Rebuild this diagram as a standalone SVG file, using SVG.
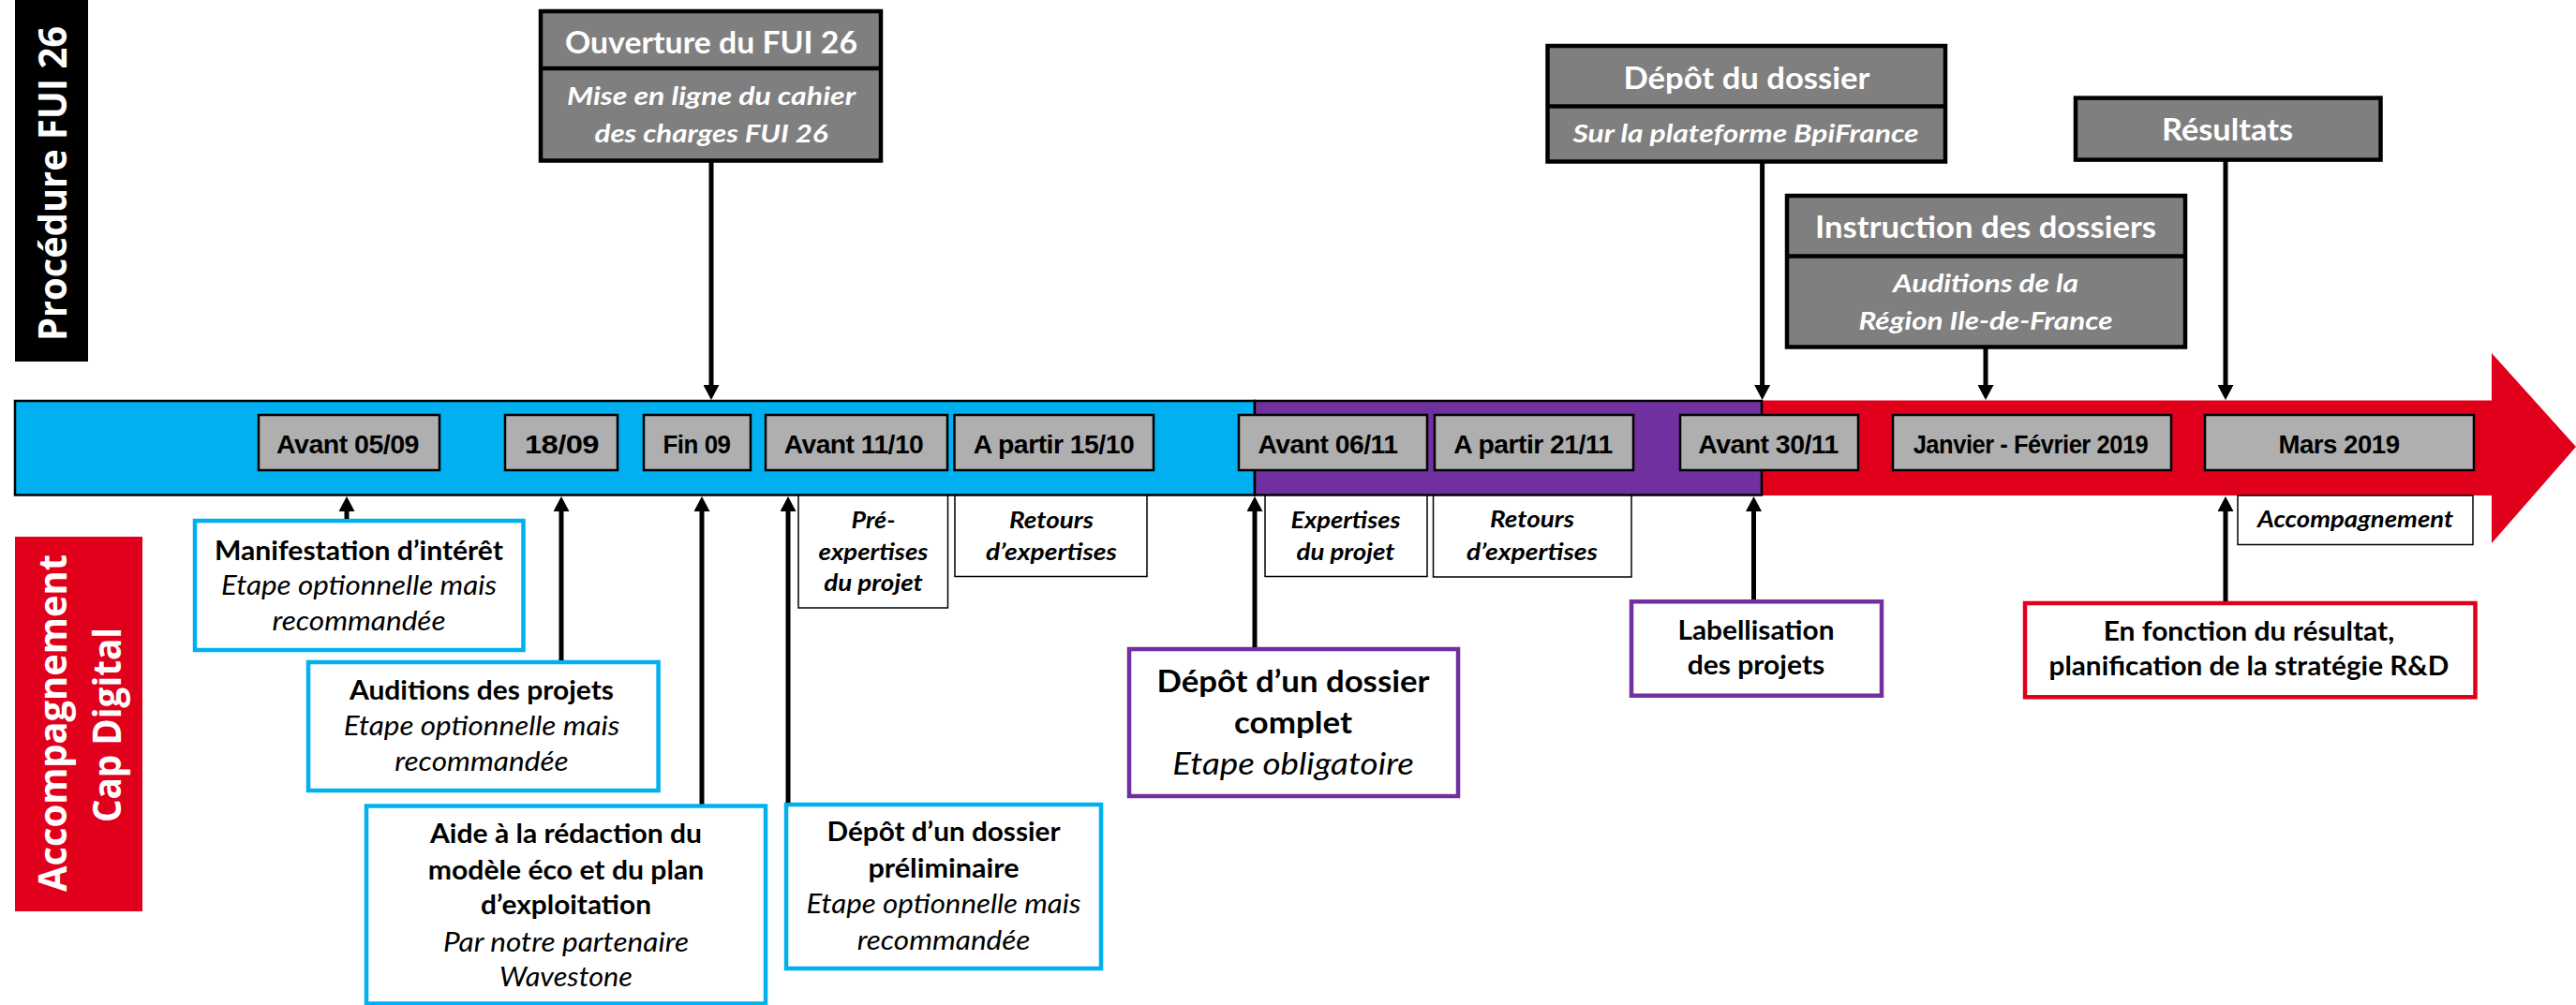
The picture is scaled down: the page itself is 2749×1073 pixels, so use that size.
<svg xmlns="http://www.w3.org/2000/svg" width="2749" height="1073" viewBox="0 0 2749 1073">
<defs>
<marker id="ah" markerUnits="userSpaceOnUse" markerWidth="17" markerHeight="17" refX="0" refY="8.5" orient="auto">
<path d="M0,0 L16,8.5 L0,17 z" fill="#000"/>
</marker>
<style>
.bg{fill:#fff}
.banner{font-family:"Open Sans","DejaVu Sans",sans-serif;font-weight:bold;font-size:42px;fill:#fff;text-anchor:middle}
.top{fill:#7f7f7f;stroke:#000;stroke-width:4.5}
.div{stroke:#000;stroke-width:4.5}
.tt{font-family:Lato,"Open Sans",sans-serif;font-weight:bold;font-size:33px;fill:#fff;text-anchor:middle}
.ts{font-family:Lato,"Open Sans",sans-serif;font-weight:bold;font-style:italic;font-size:26px;fill:#fff;text-anchor:middle}
.date{fill:#afafaf;stroke:#000;stroke-width:2.5}
.dt{font-family:"Liberation Sans",Arial,sans-serif;font-weight:bold;font-size:27px;fill:#000;text-anchor:middle;letter-spacing:-0.5px}
.small{fill:#fff;stroke:#000;stroke-width:1.5}
.st{font-family:Lato,"Open Sans",sans-serif;font-weight:bold;font-style:italic;font-size:24px;fill:#000;text-anchor:middle}
.bb{fill:#fff;stroke:#00b0f0;stroke-width:4.5}
.pb{fill:#fff;stroke:#7030a0;stroke-width:4.5}
.rb{fill:#fff;stroke:#e1001b;stroke-width:4.5}
.b{font-family:Lato,"Open Sans",sans-serif;font-weight:bold;font-size:28px;fill:#000;text-anchor:middle}
.i{font-family:Lato,"Open Sans",sans-serif;font-style:italic;font-size:28px;fill:#000;text-anchor:middle}
.big{font-size:32px}
.conn line{stroke:#000;stroke-width:5;marker-end:url(#ah)}
</style>
</defs>
<rect class="bg" x="0" y="0" width="2749" height="1073"/>

<g id="timeline">
<polygon points="1878,427.5 2659,427.5 2659,377 2749,477 2659,580 2659,529 1878,529" fill="#e1001b"/>
<rect x="16" y="428" width="1323" height="100.5" fill="#00b0f0" stroke="#000" stroke-width="2.5"/>
<rect x="1339" y="428" width="541" height="100.5" fill="#7030a0" stroke="#000" stroke-width="2.5"/>
</g>

<g id="banner-procedure">
<rect x="16" y="0" width="78" height="386" fill="#000"/>
<text class="banner" transform="translate(71,196) rotate(-90)" textLength="336" lengthAdjust="spacingAndGlyphs">Procédure FUI 26</text>
</g>
<g id="banner-accompagnement">
<rect x="16" y="573" width="136" height="400" fill="#e1001b"/>
<text class="banner" transform="translate(71,772) rotate(-90)" textLength="360" lengthAdjust="spacingAndGlyphs">Accompagnement</text>
<text class="banner" transform="translate(128.5,774) rotate(-90)" textLength="208" lengthAdjust="spacingAndGlyphs">Cap Digital</text>
</g>

<g id="ouverture">
<rect class="top" x="577" y="12" width="363" height="159.5"/>
<line class="div" x1="577" y1="73" x2="940" y2="73"/>
<text class="tt" x="759" y="57" textLength="312" lengthAdjust="spacingAndGlyphs">Ouverture du FUI 26</text>
<text class="ts" x="759" y="112" textLength="308" lengthAdjust="spacingAndGlyphs">Mise en ligne du cahier</text>
<text class="ts" x="759" y="151.5" textLength="249" lengthAdjust="spacingAndGlyphs">des charges FUI 26</text>
</g>
<g id="depot-dossier">
<rect class="top" x="1651.5" y="49" width="424.5" height="123.5"/>
<line class="div" x1="1651.5" y1="113.5" x2="2076" y2="113.5"/>
<text class="tt" x="1864" y="95" textLength="263" lengthAdjust="spacingAndGlyphs">Dépôt du dossier</text>
<text class="ts" x="1863" y="151.5" textLength="369" lengthAdjust="spacingAndGlyphs">Sur la plateforme BpiFrance</text>
</g>
<g id="instruction">
<rect class="top" x="1907" y="209" width="425" height="161.5"/>
<line class="div" x1="1907" y1="273.5" x2="2332" y2="273.5"/>
<text class="tt" x="2119" y="253.5" textLength="364" lengthAdjust="spacingAndGlyphs">Instruction des dossiers</text>
<text class="ts" x="2119" y="312" textLength="198" lengthAdjust="spacingAndGlyphs">Auditions de la</text>
<text class="ts" x="2119" y="352" textLength="271" lengthAdjust="spacingAndGlyphs">Région Ile-de-France</text>
</g>
<g id="resultats">
<rect class="top" x="2215" y="104.6" width="325.5" height="66"/>
<text class="tt" x="2377" y="150" textLength="140" lengthAdjust="spacingAndGlyphs">Résultats</text>
</g>

<g id="d-avant-0509"><rect class="date" x="276" y="443" width="193" height="59"/><text class="dt" x="371" y="484" textLength="152" lengthAdjust="spacingAndGlyphs">Avant 05/09</text></g>
<g id="d-1809"><rect class="date" x="539" y="443" width="120" height="59"/><text class="dt" x="599.5" y="484" textLength="79" lengthAdjust="spacingAndGlyphs">18/09</text></g>
<g id="d-fin09"><rect class="date" x="687" y="443" width="114" height="59"/><text class="dt" x="743.5" y="484" textLength="72" lengthAdjust="spacingAndGlyphs">Fin 09</text></g>
<g id="d-avant-1110"><rect class="date" x="817" y="443" width="194" height="59"/><text class="dt" x="911" y="484" textLength="148.6" lengthAdjust="spacingAndGlyphs">Avant 11/10</text></g>
<g id="d-apartir-1510"><rect class="date" x="1018.5" y="443" width="212.5" height="59"/><text class="dt" x="1124.5" y="484" textLength="171.4" lengthAdjust="spacingAndGlyphs">A partir 15/10</text></g>
<g id="d-avant-0611"><rect class="date" x="1322" y="443" width="201" height="59"/><text class="dt" x="1417" y="484" textLength="149" lengthAdjust="spacingAndGlyphs">Avant 06/11</text></g>
<g id="d-apartir-2111"><rect class="date" x="1531" y="443" width="212" height="59"/><text class="dt" x="1636" y="484" textLength="169.4" lengthAdjust="spacingAndGlyphs">A partir 21/11</text></g>
<g id="d-avant-3011"><rect class="date" x="1793" y="443" width="190" height="59"/><text class="dt" x="1887" y="484" textLength="149.5" lengthAdjust="spacingAndGlyphs">Avant 30/11</text></g>
<g id="d-janvier"><rect class="date" x="2020" y="443" width="297" height="59"/><text class="dt" x="2167" y="484" textLength="250.7" lengthAdjust="spacingAndGlyphs">Janvier - Février 2019</text></g>
<g id="d-mars"><rect class="date" x="2353" y="443" width="287" height="59"/><text class="dt" x="2496" y="484" textLength="129" lengthAdjust="spacingAndGlyphs">Mars 2019</text></g>

<g id="s-pre-expertises"><rect class="small" x="852" y="529" width="159.5" height="120"/>
<text class="st" x="932" y="564" textLength="47" lengthAdjust="spacingAndGlyphs">Pré-</text>
<text class="st" x="932" y="598" textLength="117" lengthAdjust="spacingAndGlyphs">expertises</text>
<text class="st" x="932" y="631" textLength="105.6" lengthAdjust="spacingAndGlyphs">du projet</text></g>
<g id="s-retours-1"><rect class="small" x="1019" y="529" width="205" height="86.5"/>
<text class="st" x="1122" y="564" textLength="90" lengthAdjust="spacingAndGlyphs">Retours</text>
<text class="st" x="1122" y="598" textLength="140" lengthAdjust="spacingAndGlyphs">d’expertises</text></g>
<g id="s-expertises"><rect class="small" x="1350" y="529" width="173" height="86.5"/>
<text class="st" x="1436" y="564" textLength="117" lengthAdjust="spacingAndGlyphs">Expertises</text>
<text class="st" x="1436" y="598" textLength="105" lengthAdjust="spacingAndGlyphs">du projet</text></g>
<g id="s-retours-2"><rect class="small" x="1529.5" y="529" width="211.5" height="87"/>
<text class="st" x="1635" y="563" textLength="90" lengthAdjust="spacingAndGlyphs">Retours</text>
<text class="st" x="1635" y="598" textLength="140" lengthAdjust="spacingAndGlyphs">d’expertises</text></g>
<g id="s-accompagnement"><rect class="small" x="2388" y="529" width="251" height="52.5"/>
<text class="st" x="2513.5" y="563.3" textLength="209" lengthAdjust="spacingAndGlyphs">Accompagnement</text></g>

<g id="manifestation"><rect class="bb" x="208" y="556" width="350.5" height="138"/>
<text class="b" x="383" y="597.5" textLength="308" lengthAdjust="spacingAndGlyphs">Manifestation d’intérêt</text>
<text class="i" x="383" y="635" textLength="294" lengthAdjust="spacingAndGlyphs">Etape optionnelle mais</text>
<text class="i" x="383" y="672.5" textLength="185" lengthAdjust="spacingAndGlyphs">recommandée</text></g>
<g id="auditions"><rect class="bb" x="329" y="707" width="373.6" height="137"/>
<text class="b" x="514" y="747" textLength="282" lengthAdjust="spacingAndGlyphs">Auditions des projets</text>
<text class="i" x="514" y="785" textLength="294.5" lengthAdjust="spacingAndGlyphs">Etape optionnelle mais</text>
<text class="i" x="514" y="823" textLength="185.4" lengthAdjust="spacingAndGlyphs">recommandée</text></g>
<g id="aide"><rect class="bb" x="391" y="860.5" width="426" height="211"/>
<text class="b" x="604" y="900" textLength="290" lengthAdjust="spacingAndGlyphs">Aide à la rédaction du</text>
<text class="b" x="604" y="938.6" textLength="294.5" lengthAdjust="spacingAndGlyphs">modèle éco et du plan</text>
<text class="b" x="604" y="976" textLength="182" lengthAdjust="spacingAndGlyphs">d’exploitation</text>
<text class="i" x="604" y="1016" textLength="262" lengthAdjust="spacingAndGlyphs">Par notre partenaire</text>
<text class="i" x="604" y="1053" textLength="142" lengthAdjust="spacingAndGlyphs">Wavestone</text></g>
<g id="depot-preliminaire"><rect class="bb" x="839" y="859" width="336" height="175"/>
<text class="b" x="1007" y="898" textLength="249" lengthAdjust="spacingAndGlyphs">Dépôt d’un dossier</text>
<text class="b" x="1007" y="937" textLength="161" lengthAdjust="spacingAndGlyphs">préliminaire</text>
<text class="i" x="1007" y="975" textLength="293" lengthAdjust="spacingAndGlyphs">Etape optionnelle mais</text>
<text class="i" x="1007" y="1013.5" textLength="184.7" lengthAdjust="spacingAndGlyphs">recommandée</text></g>
<g id="depot-complet"><rect class="pb" x="1205" y="693" width="351" height="157"/>
<text class="b big" x="1380" y="739" textLength="291" lengthAdjust="spacingAndGlyphs">Dépôt d’un dossier</text>
<text class="b big" x="1380" y="783" textLength="126" lengthAdjust="spacingAndGlyphs">complet</text>
<text class="i big" x="1380" y="827" textLength="257.6" lengthAdjust="spacingAndGlyphs">Etape obligatoire</text></g>
<g id="labellisation"><rect class="pb" x="1741" y="642.3" width="267" height="100.4"/>
<text class="b" x="1874" y="683.3" font-size="27" textLength="167" lengthAdjust="spacingAndGlyphs">Labellisation</text>
<text class="b" x="1874" y="720" font-size="27" textLength="146.6" lengthAdjust="spacingAndGlyphs">des projets</text></g>
<g id="en-fonction"><rect class="rb" x="2161" y="644" width="480.5" height="100.3"/>
<text class="b" x="2400" y="684" font-size="27" textLength="310.6" lengthAdjust="spacingAndGlyphs">En fonction du résultat,</text>
<text class="b" x="2400" y="720.7" font-size="27" textLength="427" lengthAdjust="spacingAndGlyphs">planification de la stratégie R&amp;D</text></g>

<g id="connectors" class="conn">
<line x1="759" y1="173" x2="759" y2="411"/>
<line x1="1880.6" y1="174" x2="1880.6" y2="411"/>
<line x1="2119" y1="372" x2="2119" y2="411"/>
<line x1="2375" y1="172" x2="2375" y2="411"/>
<line x1="370" y1="554" x2="370" y2="546"/>
<line x1="599" y1="705" x2="599" y2="546"/>
<line x1="749" y1="858.5" x2="749" y2="546"/>
<line x1="841" y1="857" x2="841" y2="546"/>
<line x1="1339" y1="691" x2="1339" y2="546"/>
<line x1="1871.5" y1="640" x2="1871.5" y2="546"/>
<line x1="2375" y1="642" x2="2375" y2="546"/>
</g>
</svg>
